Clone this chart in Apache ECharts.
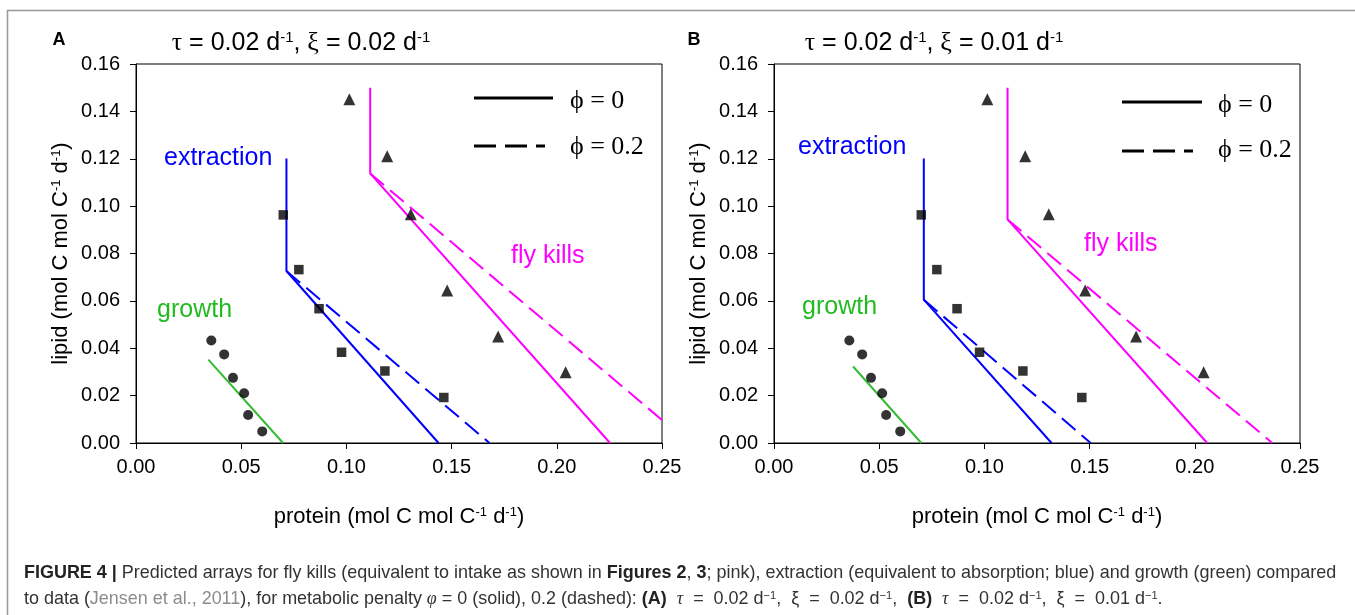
<!DOCTYPE html>
<html>
<head>
<meta charset="utf-8">
<script src="https://cdn.jsdelivr.net/npm/echarts@6/dist/echarts.min.js"></script>
<style>
  html, body { margin: 0; padding: 0; background: #fff; }
  #main { width: 1355px; height: 615px; }
</style>
</head>
<body>
<div id="main"></div>
<script>
// observed data (Jensen et al. 2011) - same in both panels
var circleProtein = [0.0358, 0.0419, 0.0461, 0.0514, 0.0533, 0.0600];
var circleLipid = [0.0433, 0.0374, 0.0275, 0.0210, 0.0118, 0.0049];
var squareProtein = [0.0700, 0.0774, 0.0870, 0.0977, 0.1183, 0.1463];
var squareLipid = [0.0963, 0.0732, 0.0567, 0.0383, 0.0304, 0.0192];
var triangleProtein = [0.1014, 0.1194, 0.1306, 0.1479, 0.1721, 0.2042];
var triangleLipid = [0.1451, 0.1211, 0.0966, 0.0644, 0.0450, 0.0299];

// predicted arrays, panel A
var killsSolidA = [[0.1113, 0.150], [0.1113, 0.1138], [0.2253, 0]];
var killsDashA = [[0.1113, 0.1138], [0.25, 0.0097]];
var extractSolidA = [[0.0715, 0.1201], [0.0715, 0.0726], [0.1438, 0]];
var extractDashA = [[0.0715, 0.0726], [0.1680, 0]];
var growthA = [[0.0344, 0.0352], [0.0699, 0]];

// predicted arrays, panel B
var killsSolidB = [[0.1110, 0.150], [0.1110, 0.0944], [0.2059, 0]];
var killsDashB = [[0.1110, 0.0944], [0.2368, 0]];
var extractSolidB = [[0.0712, 0.1201], [0.0712, 0.0605], [0.1319, 0]];
var extractDashB = [[0.0712, 0.0605], [0.1505, 0]];
var growthB = [[0.0376, 0.0323], [0.0700, 0]];

var panelTitles = [
  '{g|τ} = 0.02 d{sup|-1}, {g|ξ} = 0.02 d{sup|-1}',
  '{g|τ} = 0.02 d{sup|-1}, {g|ξ} = 0.01 d{sup|-1}'
];
var legendLabels = ['ϕ = 0', 'ϕ = 0.2'];

var capLine1 = '{b|FIGURE 4 |}{r| Predicted arrays for fly kills (equivalent to intake as shown in }{b|Figures 2}{r|, }{b|3}{r|; pink), extraction (equivalent to absorption; blue) and growth (green) compared}';
var capLine2 = '{r|to data (}{l|Jensen et al., 2011}{r|), for metabolic penalty }{i|φ}{r| = 0 (solid), 0.2 (dashed): }{b|(A)}{r|  }{i|τ}{r|  =  0.02 d}{s|−1}{r|,  ξ  =  0.02 d}{s|−1}{r|,  }{b|(B)}{r|  }{i|τ}{r|  =  0.02 d}{s|−1}{r|,  ξ  =  0.01 d}{s|−1}{r|.}';

var SANS = '"Liberation Sans", Arial, sans-serif';
var SERIF = '"Liberation Serif", "Times New Roman", serif';
var BLUE = '#0000ff', PINK = '#ff00ff', GREEN = '#33bb33';

function zip(xs, ys) {
  return xs.map(function(x, i) { return [x, ys[i]]; });
}

var supRich = {
  sup: { fontSize: 13, fontFamily: SANS, color: '#000', verticalAlign: 'top' }
};

function xAxisFor(idx) {
  return {
    gridIndex: idx, type: 'value', min: 0, max: 0.25, interval: 0.05,
    name: 'protein (mol C mol C{sup|-1} d{sup|-1})',
    nameLocation: 'middle', nameGap: 63,
    nameTextStyle: { fontSize: 22, fontFamily: SANS, color: '#000', rich: supRich },
    axisLine: { lineStyle: { color: '#000', width: 1 } },
    axisTick: { show: true, inside: false, length: 6, lineStyle: { color: '#000' } },
    axisLabel: { fontSize: 20, fontFamily: SANS, color: '#000', margin: 14,
      formatter: function(v) { return v.toFixed(2); } },
    splitLine: { show: false }
  };
}

function yAxisFor(idx) {
  return {
    gridIndex: idx, type: 'value', min: 0, max: 0.16, interval: 0.02,
    name: 'lipid (mol C mol C{sup|-1} d{sup|-1})',
    nameLocation: 'middle', nameGap: 64, nameRotate: 90,
    nameTextStyle: { fontSize: 22, fontFamily: SANS, color: '#000', rich: supRich },
    axisLine: { lineStyle: { color: '#000', width: 1 } },
    axisTick: { show: true, inside: false, length: 6, lineStyle: { color: '#000' } },
    axisLabel: { fontSize: 20, fontFamily: SANS, color: '#000', margin: 16,
      formatter: function(v) { return v.toFixed(2); } },
    splitLine: { show: false }
  };
}

function lineSeries(idx, data, color, dashed) {
  return {
    type: 'line', xAxisIndex: idx, yAxisIndex: idx, data: data,
    showSymbol: false, symbol: 'none', silent: true, z: 2,
    lineStyle: { color: color, width: 2, type: dashed ? [18, 8] : 'solid' }
  };
}

function scatterSeries(idx, data, symbol, size) {
  return {
    type: 'scatter', xAxisIndex: idx, yAxisIndex: idx, data: data,
    symbol: symbol, symbolSize: size, z: 5,
    itemStyle: { color: '#000' }
  };
}

var series = [];
[
  [killsSolidA, killsDashA, extractSolidA, extractDashA, growthA],
  [killsSolidB, killsDashB, extractSolidB, extractDashB, growthB]
].forEach(function(p, idx) {
  series.push(lineSeries(idx, p[0], PINK, false));
  series.push(lineSeries(idx, p[1], PINK, true));
  series.push(lineSeries(idx, p[2], BLUE, false));
  series.push(lineSeries(idx, p[3], BLUE, true));
  series.push(lineSeries(idx, p[4], GREEN, false));
  series.push(scatterSeries(idx, zip(circleProtein, circleLipid), 'circle', 10));
  series.push(scatterSeries(idx, zip(squareProtein, squareLipid), 'rect', 9.5));
  series.push(scatterSeries(idx, zip(triangleProtein, triangleLipid), 'triangle', 12));
});

function txt(x, y, text, opts) {
  var style = {
    x: x, y: y, text: text,
    font: opts.font || ('25px ' + SANS),
    fill: opts.fill || '#000',
    textAlign: opts.align || 'left',
    textVerticalAlign: 'middle'
  };
  if (opts.rich) style.rich = opts.rich;
  return { type: 'text', silent: true, z: 10, style: style };
}

function keyLine(x1, x2, y, dashed) {
  return {
    type: 'line', silent: true, z: 10,
    shape: { x1: x1, y1: y, x2: x2, y2: y },
    style: { stroke: '#000', lineWidth: 3, lineDash: dashed ? [22, 9] : null }
  };
}

var titleRich = {
  sup: { fontSize: 15, fontFamily: SANS, fill: '#000', verticalAlign: 'top' },
  g: { fontSize: 26, fontFamily: SERIF, fill: '#000' }
};

// caption: size the font so the first line fills 24 .. 1337
var capStyles = {
  b: { fontWeight: 'bold', fontFamily: SANS, fill: '#222', rel: 1 },
  r: { fontWeight: 'normal', fontFamily: SANS, fill: '#333', rel: 1 },
  l: { fontWeight: 'normal', fontFamily: SANS, fill: '#8c8c8c', rel: 1 },
  i: { fontWeight: 'normal', fontStyle: 'italic', fontFamily: SERIF, fill: '#333', rel: 1 },
  s: { fontWeight: 'normal', fontFamily: SANS, fill: '#333', rel: 0.62, verticalAlign: 'top' }
};
var measureCtx = document.createElement('canvas').getContext('2d');
function richWidth(str, size) {
  var w = 0, m, re = /\{(\w)\|([^}]*)\}/g;
  while ((m = re.exec(str)) !== null) {
    var s = capStyles[m[1]];
    measureCtx.font = (s.fontStyle || 'normal') + ' ' + s.fontWeight + ' ' + (size * s.rel) + 'px ' + s.fontFamily;
    w += measureCtx.measureText(m[2]).width;
  }
  return w;
}
var capSize = 16 * (1337 - 24) / richWidth(capLine1, 16);
var capRich = {};
Object.keys(capStyles).forEach(function(k) {
  var s = capStyles[k];
  capRich[k] = { fontSize: capSize * s.rel, fontFamily: s.fontFamily, fontWeight: s.fontWeight,
    fontStyle: s.fontStyle || 'normal', fill: s.fill, verticalAlign: s.verticalAlign || 'middle' };
});

var graphics = [
  // figure frame
  { type: 'line', silent: true, shape: { x1: 7.5, y1: 10, x2: 7.5, y2: 615 }, style: { stroke: '#999', lineWidth: 1.5 } },
  { type: 'line', silent: true, shape: { x1: 7, y1: 10.5, x2: 1355, y2: 10.5 }, style: { stroke: '#999', lineWidth: 1.5 } },
  // panel letters and titles
  txt(59, 40, 'A', { font: 'bold 18px ' + SANS, align: 'center' }),
  txt(694, 40, 'B', { font: 'bold 18px ' + SANS, align: 'center' }),
  txt(301, 43, panelTitles[0], { font: '25px ' + SANS, align: 'center', rich: titleRich }),
  txt(934, 43, panelTitles[1], { font: '25px ' + SANS, align: 'center', rich: titleRich }),
  // curve labels
  txt(164, 158, 'extraction', { fill: BLUE }),
  txt(157, 310, 'growth', { fill: '#22bb22' }),
  txt(511, 256, 'fly kills', { fill: PINK }),
  txt(798, 147, 'extraction', { fill: BLUE }),
  txt(802, 307, 'growth', { fill: '#22bb22' }),
  txt(1084, 244, 'fly kills', { fill: PINK }),
  // key
  keyLine(474, 553, 98, false),
  keyLine(474, 545, 146, true),
  txt(570, 101, legendLabels[0], { font: '26px ' + SERIF }),
  txt(570, 147, legendLabels[1], { font: '26px ' + SERIF }),
  keyLine(1122, 1202, 102, false),
  keyLine(1122, 1193, 151, true),
  txt(1218, 105, legendLabels[0], { font: '26px ' + SERIF }),
  txt(1218, 150, legendLabels[1], { font: '26px ' + SERIF }),
  // caption
  txt(24, 573, capLine1, { font: capSize + 'px ' + SANS, rich: capRich }),
  txt(24, 599, capLine2, { font: capSize + 'px ' + SANS, rich: capRich })
];

var chart = echarts.init(document.getElementById('main'), null, { renderer: 'canvas' });
chart.setOption({
  animation: false,
  backgroundColor: '#fff',
  grid: [
    { left: 136, top: 64, width: 526, height: 379, show: true, borderColor: '#000', borderWidth: 1, backgroundColor: 'transparent' },
    { left: 774, top: 64, width: 526, height: 379, show: true, borderColor: '#000', borderWidth: 1, backgroundColor: 'transparent' }
  ],
  xAxis: [xAxisFor(0), xAxisFor(1)],
  yAxis: [yAxisFor(0), yAxisFor(1)],
  series: series,
  graphic: graphics
});
</script>
</body>
</html>
